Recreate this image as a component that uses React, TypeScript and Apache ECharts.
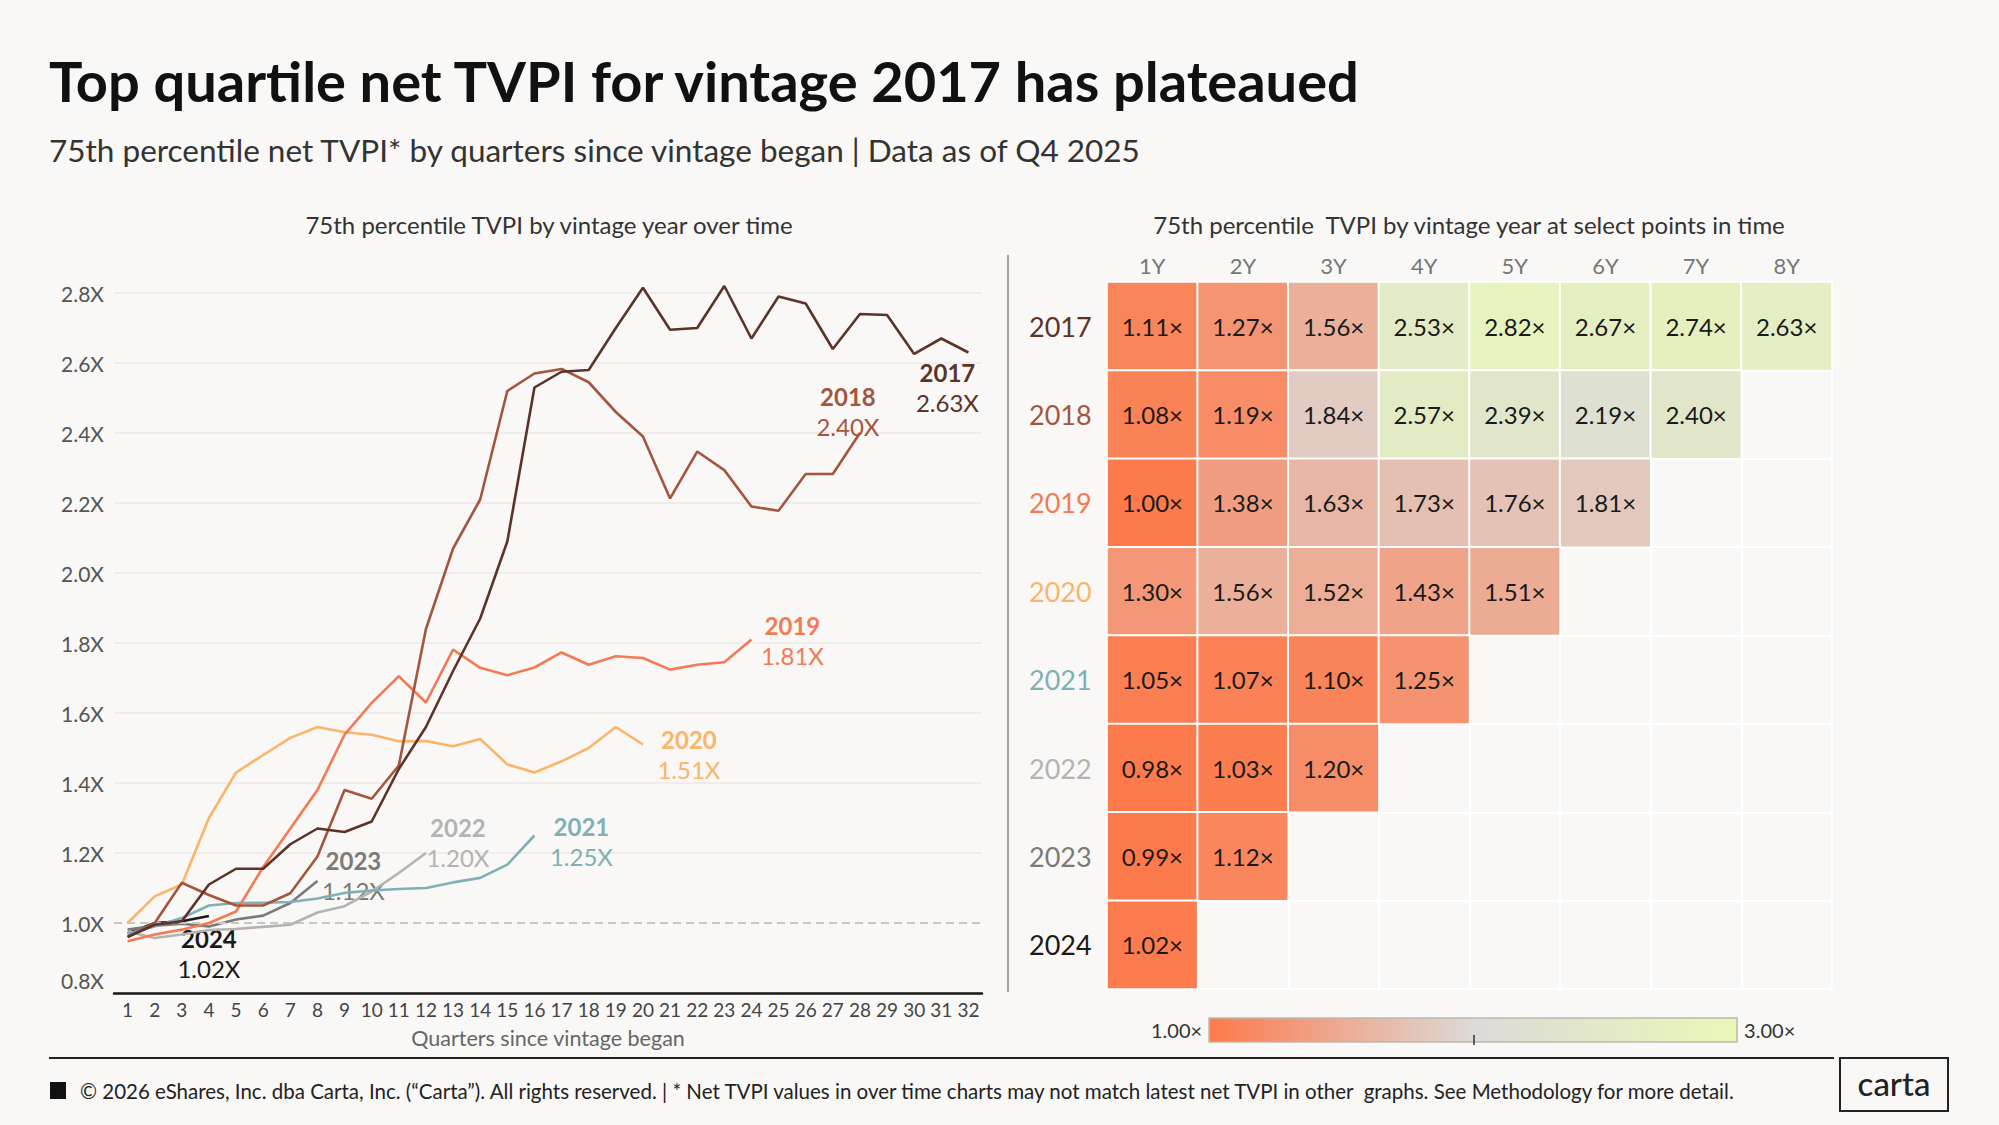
import React, { useEffect, useRef } from "react";
import * as echarts from "echarts";

const FONT = "Lato";

// ---- Line chart data (75th percentile TVPI by quarter since vintage began)
const quarters = ["1","2","3","4","5","6","7","8","9","10","11","12","13","14","15","16","17","18","19","20","21","22","23","24","25","26","27","28","29","30","31","32"];
const vintages = ["2017", "2018", "2019", "2020", "2021", "2022", "2023", "2024"];
const vintageColors = ["#5c3328", "#a3563d", "#f47a55", "#fbb468", "#7fb0b5", "#b3b3b3", "#7a7a7a", "#1a1a1a"];

const tvpi2017 = [0.96, 0.995, 1.005, 1.11, 1.155, 1.155, 1.225, 1.27, 1.26, 1.29, 1.44, 1.56, 1.72, 1.87, 2.09, 2.53, 2.575, 2.58, 2.7, 2.815, 2.695, 2.7, 2.82, 2.67, 2.79, 2.77, 2.64, 2.74, 2.737, 2.626, 2.67, 2.63];
const tvpi2018 = [0.96, 1.0, 1.115, 1.08, 1.05, 1.05, 1.085, 1.19, 1.38, 1.355, 1.45, 1.84, 2.07, 2.21, 2.52, 2.57, 2.583, 2.545, 2.46, 2.39, 2.213, 2.347, 2.294, 2.19, 2.178, 2.283, 2.283, 2.4];
const tvpi2019 = [0.948, 0.967, 0.981, 1.0, 1.033, 1.16, 1.27, 1.38, 1.538, 1.629, 1.705, 1.63, 1.781, 1.729, 1.708, 1.73, 1.773, 1.738, 1.762, 1.757, 1.724, 1.738, 1.745, 1.81];
const tvpi2020 = [1.0, 1.076, 1.11, 1.3, 1.43, 1.48, 1.529, 1.56, 1.545, 1.538, 1.519, 1.52, 1.505, 1.526, 1.453, 1.43, 1.462, 1.5, 1.56, 1.51];
const tvpi2021 = [0.97, 0.99, 1.014, 1.05, 1.057, 1.058, 1.06, 1.07, 1.086, 1.093, 1.097, 1.1, 1.116, 1.129, 1.167, 1.25];
const tvpi2022 = [0.976, 0.957, 0.967, 0.98, 0.983, 0.989, 0.995, 1.03, 1.048, 1.09, 1.143, 1.2];
const tvpi2023 = [0.981, 0.992, 0.998, 0.99, 1.01, 1.021, 1.057, 1.12];
const tvpi2024 = [0.97, 1.0, 1.005, 1.02];
const tvpiSeries = [tvpi2017, tvpi2018, tvpi2019, tvpi2020, tvpi2021, tvpi2022, tvpi2023, tvpi2024];
// end-label offsets relative to each line's last point
const endLabelOffsets = [[-21, 35], [-12, -22], [41, 1], [46, 10], [47, 6], [32, -11], [36, -6], [0, 37]];

// ---- Heatmap data (TVPI at select points in time)
const heatCols = ["1Y", "2Y", "3Y", "4Y", "5Y", "6Y", "7Y", "8Y"];
const heat2017 = [1.11, 1.27, 1.56, 2.53, 2.82, 2.67, 2.74, 2.63];
const heat2018 = [1.08, 1.19, 1.84, 2.57, 2.39, 2.19, 2.4];
const heat2019 = [1.0, 1.38, 1.63, 1.73, 1.76, 1.81];
const heat2020 = [1.3, 1.56, 1.52, 1.43, 1.51];
const heat2021 = [1.05, 1.07, 1.1, 1.25];
const heat2022 = [0.98, 1.03, 1.2];
const heat2023 = [0.99, 1.12];
const heat2024 = [1.02];
const heatRows = [heat2017, heat2018, heat2019, heat2020, heat2021, heat2022, heat2023, heat2024];

const yTickValues = [0.8, 1.0, 1.2, 1.4, 1.6, 1.8, 2.0, 2.2, 2.4, 2.6, 2.8];

export default function App() {
  const ref = useRef<HTMLDivElement>(null);

  useEffect(() => {
    document.body.style.margin = "0";
    document.body.style.background = "#f9f8f6";
    if (!ref.current) return;
    const chart = echarts.init(ref.current, undefined, { renderer: "svg" });

    const heatData: any[] = [];
    heatRows.forEach((row, r) => {
      row.forEach((v, c) => heatData.push([c, r, v]));
    });

    const rowRich: any = {};
    vintages.forEach((v, i) => {
      rowRich["y" + v] = { color: vintageColors[i], fontSize: 27, fontFamily: FONT };
    });

    const lineSeries = vintages.map((v, i) => {
      const data = tvpiSeries[i];
      const last = data[data.length - 1];
      const s: any = {
        type: "line",
        name: v,
        xAxisIndex: 0,
        yAxisIndex: 0,
        data,
        symbol: "none",
        showSymbol: false,
        clip: false,
        z: 10 - i,
        lineStyle: { width: 2.6, color: vintageColors[i] },
        itemStyle: { color: vintageColors[i] },
        emphasis: { disabled: true },
        markPoint: {
          symbol: "circle",
          symbolSize: 1,
          itemStyle: { color: "rgba(0,0,0,0)" },
          silent: true,
          data: [{ coord: [data.length - 1, last] }],
          label: {
            show: true,
            position: "inside",
            offset: endLabelOffsets[i],
            align: "center",
            formatter: "{yr|" + v + "}\n{val|" + last.toFixed(2) + "X}",
            rich: {
              yr: { fontSize: 24, fontWeight: "bold", color: vintageColors[i], lineHeight: 30, align: "center", fontFamily: FONT },
              val: { fontSize: 24, color: vintageColors[i], lineHeight: 30, align: "center", fontFamily: FONT },
            },
          },
        },
      };
      if (i === 0) {
        s.markLine = {
          silent: true,
          symbol: "none",
          label: { show: false },
          lineStyle: { type: [8, 5], color: "#c9c7c3", width: 2 },
          data: [{ yAxis: 1.0 }],
        };
      }
      return s;
    });

    const splitColors = yTickValues.map((t) => (t === 1.0 ? "rgba(0,0,0,0)" : "#ebe9e5"));

    const option: any = {
      animation: false,
      backgroundColor: "#f9f8f6",
      textStyle: { fontFamily: FONT },
      grid: [
        { left: 114, top: 293, width: 868, height: 700, containLabel: false },
        { left: 1107, top: 282, width: 725, height: 707, containLabel: false },
      ],
      xAxis: [
        {
          gridIndex: 0,
          type: "category",
          data: quarters,
          boundaryGap: true,
          axisLine: { lineStyle: { color: "#1a1a1a", width: 2.5 } },
          axisTick: { show: false },
          axisLabel: { color: "#444", fontSize: 19, margin: 7, interval: 0, fontFamily: FONT },
          name: "Quarters since vintage began",
          nameLocation: "middle",
          nameGap: 34,
          nameTextStyle: { color: "#666", fontSize: 21.5, fontFamily: FONT },
        },
        {
          gridIndex: 1,
          type: "category",
          position: "top",
          data: heatCols,
          axisLine: { show: false },
          axisTick: { show: false },
          axisLabel: { color: "#777", fontSize: 22, margin: 6, fontFamily: FONT },
          splitLine: { show: true, lineStyle: { color: "#ffffff", width: 2 } },
        },
      ],
      yAxis: [
        {
          gridIndex: 0,
          type: "value",
          min: 0.8,
          max: 2.8,
          interval: 0.2,
          axisLine: { show: false },
          axisTick: { show: false },
          axisLabel: {
            color: "#555",
            fontSize: 21,
            margin: 10,
            fontFamily: FONT,
            formatter: (val: number) =>
              Math.abs(val - 0.8) < 1e-6 ? "{low|" + val.toFixed(1) + "X}" : val.toFixed(1) + "X",
            rich: { low: { padding: [0, 0, 26, 0], fontSize: 21, color: "#555", fontFamily: FONT } },
          },
          splitLine: { show: true, lineStyle: { color: splitColors, width: 1.5 } },
        },
        {
          gridIndex: 1,
          type: "category",
          inverse: true,
          data: vintages,
          axisLine: { show: false },
          axisTick: { show: false },
          axisLabel: {
            align: "left",
            margin: 78,
            formatter: (val: string) => "{y" + val + "|" + val + "}",
            rich: rowRich,
          },
          splitLine: { show: true, lineStyle: { color: "#ffffff", width: 2 } },
        },
      ],
      visualMap: {
        type: "continuous",
        seriesIndex: 8,
        min: 1,
        max: 3,
        orient: "horizontal",
        left: 1136,
        top: 1003,
        itemWidth: 24,
        itemHeight: 528,
        text: ["3.00×", "1.00×"],
        textGap: 7,
        calculable: false,
        hoverLink: false,
        textStyle: { color: "#333", fontSize: 20, fontFamily: FONT },
        inRange: { color: ["#fd7a4c", "#dcdad8", "#e9f8b6"] },
      },
      series: [
        ...lineSeries,
        {
          type: "heatmap",
          xAxisIndex: 1,
          yAxisIndex: 1,
          data: heatData,
          itemStyle: { borderColor: "#ffffff", borderWidth: 2 },
          emphasis: { disabled: true },
          label: {
            show: true,
            color: "#1a1a1a",
            fontSize: 24,
            fontFamily: FONT,
            formatter: (p: any) => p.value[2].toFixed(2) + "×",
          },
        },
      ],
      graphic: [
        {
          type: "text",
          left: 49,
          top: 52,
          style: { text: "Top quartile net TVPI for vintage 2017 has plateaued", fontSize: 56, fontWeight: "bold", fill: "#111", fontFamily: FONT },
        },
        {
          type: "text",
          left: 49,
          top: 134,
          style: { text: "75th percentile net TVPI* by quarters since vintage began | Data as of Q4 2025", fontSize: 31.5, fill: "#333", fontFamily: FONT },
        },
        {
          type: "text",
          x: 549,
          y: 224,
          style: { text: "75th percentile TVPI by vintage year over time", fontSize: 24, fill: "#333", align: "center", verticalAlign: "middle", fontFamily: FONT },
        },
        {
          type: "text",
          x: 1469,
          y: 224,
          style: { text: "75th percentile  TVPI by vintage year at select points in time", fontSize: 24, fill: "#333", align: "center", verticalAlign: "middle", fontFamily: FONT },
        },
        {
          type: "line",
          shape: { x1: 1008, y1: 255, x2: 1008, y2: 992 },
          style: { stroke: "#8a8a8a", lineWidth: 1.5 },
        },
        {
          type: "rect",
          shape: { x: 1209, y: 1018, width: 528, height: 24 },
          style: { fill: "none", stroke: "#bdb8ad", lineWidth: 1.5 },
          z: 100,
        },
        {
          type: "line",
          shape: { x1: 1474, y1: 1035, x2: 1474, y2: 1045 },
          style: { stroke: "#333", lineWidth: 1.5 },
          z: 100,
        },
        {
          type: "line",
          shape: { x1: 49, y1: 1058, x2: 1834, y2: 1058 },
          style: { stroke: "#222", lineWidth: 2 },
        },
        {
          type: "rect",
          shape: { x: 50, y: 1082, width: 16, height: 17 },
          style: { fill: "#111" },
        },
        {
          type: "text",
          x: 80,
          y: 1091,
          style: {
            text: "© 2026 eShares, Inc. dba Carta, Inc. (“Carta”). All rights reserved. | * Net TVPI values in over time charts may not match latest net TVPI in other  graphs. See Methodology for more detail.",
            fontSize: 20.5,
            fill: "#222",
            verticalAlign: "middle",
            fontFamily: FONT,
          },
        },
        {
          type: "rect",
          shape: { x: 1840, y: 1058, width: 108, height: 53 },
          style: { fill: "none", stroke: "#222", lineWidth: 2 },
        },
        {
          type: "text",
          x: 1894,
          y: 1083,
          style: { text: "carta", fontSize: 33, fontWeight: 500, fill: "#222", align: "center", verticalAlign: "middle", fontFamily: FONT },
        },
      ],
    };

    chart.setOption(option);
    return () => chart.dispose();
  }, []);

  return <div ref={ref} style={{ width: 1999, height: 1125 }} />;
}
